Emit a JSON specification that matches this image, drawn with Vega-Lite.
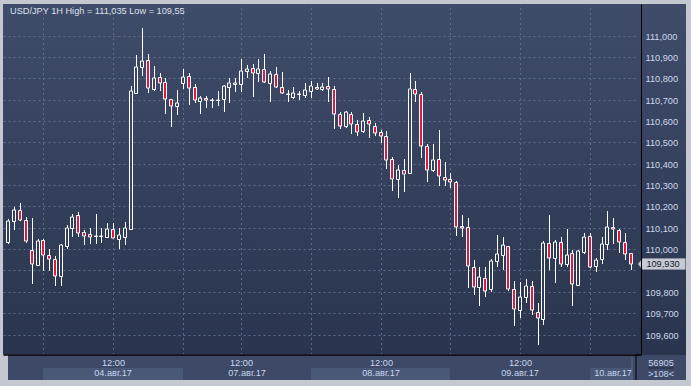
{
  "$schema": "https://vega.github.io/schema/vega-lite/v6.json",
  "width": 638,
  "height": 350.5,
  "autosize": {"type": "none"},
  "padding": {"left": 3, "top": 4, "right": 50, "bottom": 31.5},
  "background": "#c3c8d1",
  "config": {
    "view": {"stroke": null, "fill": {"gradient": "linear", "x1": 0, "y1": 0, "x2": 0, "y2": 1, "stops": [{"offset": 0, "color": "#3f4c6a"}, {"offset": 1, "color": "#2a344e"}]}},
    "font": "Liberation Sans"
  },
  "datasets": {
    "candles": [
      {"i":0,"o":110.035,"h":110.14,"l":110.025,"c":110.132},
      {"i":1,"o":110.132,"h":110.196,"l":110.09,"c":110.183},
      {"i":2,"o":110.183,"h":110.218,"l":110.13,"c":110.135},
      {"i":3,"o":110.135,"h":110.15,"l":110.027,"c":110.038},
      {"i":4,"o":109.994,"h":110.146,"l":109.837,"c":109.929},
      {"i":5,"o":109.924,"h":110.046,"l":109.924,"c":110.038},
      {"i":6,"o":110.041,"h":110.046,"l":109.899,"c":109.971},
      {"i":7,"o":109.971,"h":109.999,"l":109.899,"c":109.952},
      {"i":8,"o":109.954,"h":109.968,"l":109.829,"c":109.876},
      {"i":9,"o":109.876,"h":110.022,"l":109.829,"c":110.018},
      {"i":10,"o":110.016,"h":110.115,"l":109.999,"c":110.097},
      {"i":11,"o":110.1,"h":110.163,"l":110.057,"c":110.149},
      {"i":12,"o":110.158,"h":110.174,"l":110.055,"c":110.077},
      {"i":13,"o":110.079,"h":110.089,"l":110.019,"c":110.063},
      {"i":14,"o":110.069,"h":110.1,"l":110.022,"c":110.058},
      {"i":15,"o":110.063,"h":110.164,"l":110.024,"c":110.063},
      {"i":16,"o":110.063,"h":110.1,"l":110.027,"c":110.062},
      {"i":17,"o":110.055,"h":110.121,"l":110.05,"c":110.096},
      {"i":18,"o":110.093,"h":110.124,"l":110.05,"c":110.054},
      {"i":19,"o":110.049,"h":110.1,"l":110.002,"c":110.064},
      {"i":20,"o":110.057,"h":110.127,"l":110.019,"c":110.097},
      {"i":21,"o":110.096,"h":110.764,"l":110.09,"c":110.74},
      {"i":22,"o":110.733,"h":110.909,"l":110.725,"c":110.851},
      {"i":23,"o":110.851,"h":111.035,"l":110.812,"c":110.881},
      {"i":24,"o":110.885,"h":110.912,"l":110.729,"c":110.753},
      {"i":25,"o":110.748,"h":110.856,"l":110.742,"c":110.8},
      {"i":26,"o":110.804,"h":110.823,"l":110.742,"c":110.778},
      {"i":27,"o":110.781,"h":110.8,"l":110.631,"c":110.703},
      {"i":28,"o":110.701,"h":110.703,"l":110.573,"c":110.669},
      {"i":29,"o":110.67,"h":110.745,"l":110.628,"c":110.683},
      {"i":30,"o":110.776,"h":110.843,"l":110.748,"c":110.804},
      {"i":31,"o":110.81,"h":110.823,"l":110.675,"c":110.753},
      {"i":32,"o":110.759,"h":110.772,"l":110.683,"c":110.697},
      {"i":33,"o":110.692,"h":110.718,"l":110.632,"c":110.707},
      {"i":34,"o":110.706,"h":110.718,"l":110.659,"c":110.697},
      {"i":35,"o":110.699,"h":110.706,"l":110.659,"c":110.698},
      {"i":36,"o":110.698,"h":110.742,"l":110.67,"c":110.7},
      {"i":37,"o":110.703,"h":110.766,"l":110.643,"c":110.764},
      {"i":38,"o":110.76,"h":110.8,"l":110.685,"c":110.776},
      {"i":39,"o":110.775,"h":110.8,"l":110.737,"c":110.776},
      {"i":40,"o":110.772,"h":110.89,"l":110.737,"c":110.832},
      {"i":41,"o":110.832,"h":110.862,"l":110.8,"c":110.843},
      {"i":42,"o":110.846,"h":110.865,"l":110.711,"c":110.823},
      {"i":43,"o":110.823,"h":110.89,"l":110.784,"c":110.842},
      {"i":44,"o":110.842,"h":110.913,"l":110.776,"c":110.781},
      {"i":45,"o":110.776,"h":110.834,"l":110.69,"c":110.818},
      {"i":46,"o":110.818,"h":110.851,"l":110.753,"c":110.757},
      {"i":47,"o":110.757,"h":110.828,"l":110.725,"c":110.729},
      {"i":48,"o":110.726,"h":110.745,"l":110.687,"c":110.727},
      {"i":49,"o":110.714,"h":110.757,"l":110.703,"c":110.729},
      {"i":50,"o":110.725,"h":110.742,"l":110.698,"c":110.726},
      {"i":51,"o":110.721,"h":110.776,"l":110.709,"c":110.743},
      {"i":52,"o":110.742,"h":110.789,"l":110.709,"c":110.764},
      {"i":53,"o":110.761,"h":110.776,"l":110.743,"c":110.75},
      {"i":54,"o":110.748,"h":110.776,"l":110.742,"c":110.757},
      {"i":55,"o":110.762,"h":110.804,"l":110.69,"c":110.75},
      {"i":56,"o":110.748,"h":110.764,"l":110.561,"c":110.631},
      {"i":57,"o":110.631,"h":110.643,"l":110.561,"c":110.575},
      {"i":58,"o":110.575,"h":110.646,"l":110.569,"c":110.64},
      {"i":59,"o":110.634,"h":110.643,"l":110.537,"c":110.587},
      {"i":60,"o":110.587,"h":110.606,"l":110.531,"c":110.55},
      {"i":61,"o":110.555,"h":110.636,"l":110.545,"c":110.6},
      {"i":62,"o":110.603,"h":110.62,"l":110.522,"c":110.584},
      {"i":63,"o":110.576,"h":110.589,"l":110.531,"c":110.545},
      {"i":64,"o":110.547,"h":110.558,"l":110.498,"c":110.528},
      {"i":65,"o":110.528,"h":110.553,"l":110.374,"c":110.419},
      {"i":66,"o":110.42,"h":110.431,"l":110.274,"c":110.327},
      {"i":67,"o":110.327,"h":110.394,"l":110.238,"c":110.369},
      {"i":68,"o":110.369,"h":110.422,"l":110.269,"c":110.35},
      {"i":69,"o":110.355,"h":110.823,"l":110.35,"c":110.748},
      {"i":70,"o":110.748,"h":110.787,"l":110.69,"c":110.725},
      {"i":71,"o":110.725,"h":110.734,"l":110.428,"c":110.481},
      {"i":72,"o":110.481,"h":110.492,"l":110.316,"c":110.369},
      {"i":73,"o":110.369,"h":110.492,"l":110.36,"c":110.416},
      {"i":74,"o":110.42,"h":110.558,"l":110.297,"c":110.341},
      {"i":75,"o":110.336,"h":110.406,"l":110.297,"c":110.322},
      {"i":76,"o":110.327,"h":110.355,"l":110.285,"c":110.313},
      {"i":77,"o":110.313,"h":110.318,"l":110.063,"c":110.102},
      {"i":78,"o":110.107,"h":110.16,"l":110.058,"c":110.097},
      {"i":79,"o":110.102,"h":110.144,"l":109.82,"c":109.922},
      {"i":80,"o":109.918,"h":109.949,"l":109.785,"c":109.824},
      {"i":81,"o":109.824,"h":109.918,"l":109.735,"c":109.871},
      {"i":82,"o":109.863,"h":109.915,"l":109.777,"c":109.806},
      {"i":83,"o":109.812,"h":109.952,"l":109.801,"c":109.944},
      {"i":84,"o":109.944,"h":110.066,"l":109.918,"c":109.976},
      {"i":85,"o":109.971,"h":110.055,"l":109.902,"c":110.018},
      {"i":86,"o":110.013,"h":110.016,"l":109.806,"c":109.812},
      {"i":87,"o":109.812,"h":109.851,"l":109.642,"c":109.718},
      {"i":88,"o":109.715,"h":109.848,"l":109.679,"c":109.778},
      {"i":89,"o":109.778,"h":109.859,"l":109.746,"c":109.829},
      {"i":90,"o":109.829,"h":109.851,"l":109.692,"c":109.715},
      {"i":91,"o":109.707,"h":109.746,"l":109.55,"c":109.676},
      {"i":92,"o":109.671,"h":110.038,"l":109.645,"c":110.027},
      {"i":93,"o":110.027,"h":110.16,"l":109.902,"c":109.957},
      {"i":94,"o":109.957,"h":110.043,"l":109.843,"c":110.035},
      {"i":95,"o":110.032,"h":110.058,"l":109.918,"c":109.93},
      {"i":96,"o":109.929,"h":110.093,"l":109.918,"c":109.971},
      {"i":97,"o":109.983,"h":109.996,"l":109.735,"c":109.835},
      {"i":98,"o":109.832,"h":109.996,"l":109.829,"c":109.991},
      {"i":99,"o":109.985,"h":110.074,"l":109.976,"c":110.055},
      {"i":100,"o":110.061,"h":110.074,"l":109.913,"c":109.918},
      {"i":101,"o":109.923,"h":109.957,"l":109.894,"c":109.949},
      {"i":102,"o":109.952,"h":110.058,"l":109.93,"c":110.024},
      {"i":103,"o":110.022,"h":110.178,"l":109.996,"c":110.102},
      {"i":104,"o":110.105,"h":110.144,"l":110.024,"c":110.093},
      {"i":105,"o":110.09,"h":110.092,"l":109.98,"c":110.035},
      {"i":106,"o":110.032,"h":110.074,"l":109.949,"c":109.977},
      {"i":107,"o":109.98,"h":109.98,"l":109.9,"c":109.93}
    ],
    "days": [
      {"day": "04.авг.17", "first": 6, "last": 30, "mid": 18, "shade": "light"},
      {"day": "07.авг.17", "first": 30, "last": 52, "mid": 41, "shade": "dark"},
      {"day": "08.авг.17", "first": 52, "last": 76, "mid": 64, "shade": "light"},
      {"day": "09.авг.17", "first": 76, "last": 100, "mid": 88, "shade": "dark"},
      {"day": "10.авг.17", "first": 100, "last": 107.3, "mid": 104, "shade": "light"}
    ],
    "last": [{"price": 109.93}]
  },
  "resolve": {"axis": {"x": "independent", "y": "independent"}},
  "layer": [
    {
      "data": {"values": [{}]},
      "mark": {"type": "rect", "clip": false, "fill": {"gradient": "linear", "x1": 0, "y1": 0, "x2": 0, "y2": 1, "stops": [{"offset": 0, "color": "#3f4c6a"}, {"offset": 1, "color": "#2a344e"}]}},
      "encoding": {
        "x": {"datum": 107.93, "type": "quantitative", "scale": {"domain": [-0.077, 107.93], "nice": false, "zero": false, "round": true}, "axis": null},
        "x2": {"datum": 116.6},
        "y": {"datum": 111.1475, "type": "quantitative", "scale": {"domain": [109.5066, 111.1475], "nice": false, "zero": false, "round": true}, "axis": null},
        "y2": {"datum": 109.5066}
      }
    },
    {
      "data": {"values": [{}]},
      "mark": {"type": "rect", "clip": false, "fill": "#3d4966"},
      "encoding": {
        "x": {"datum": -0.077, "type": "quantitative", "scale": {"domain": [-0.077, 107.93], "nice": false, "zero": false, "round": true}, "axis": null},
        "x2": {"datum": 116.6},
        "y": {"datum": 109.5066, "type": "quantitative", "scale": {"domain": [109.5066, 111.1475], "nice": false, "zero": false, "round": true}, "axis": null},
        "y2": {"datum": 109.3872}
      }
    },
    {
      "data": {"name": "days"},
      "mark": {"type": "rect", "clip": false},
      "encoding": {
        "x": {"field": "first", "type": "quantitative", "scale": {"domain": [-0.077, 107.93], "nice": false, "zero": false, "round": true}, "axis": null},
        "x2": {"field": "last"},
        "y": {"datum": 109.4447, "type": "quantitative", "scale": {"domain": [109.5066, 111.1475], "nice": false, "zero": false, "round": true}, "axis": null},
        "y2": {"datum": 109.3872},
        "fill": {"field": "shade", "type": "nominal", "scale": {"domain": ["light", "dark"], "range": ["#4a5877", "#3d4966"]}, "legend": null}
      }
    },
    {
      "data": {"name": "days"},
      "mark": {"type": "text", "clip": false, "fontSize": 9.2, "font": "Liberation Sans", "color": "#c8d6ee", "baseline": "middle", "align": "center"},
      "encoding": {
        "x": {"field": "mid", "type": "quantitative", "scale": {"domain": [-0.077, 107.93], "nice": false, "zero": false, "round": true}, "axis": null},
        "y": {"datum": 109.4185, "type": "quantitative", "scale": {"domain": [109.5066, 111.1475], "nice": false, "zero": false, "round": true}, "axis": null},
        "text": {"field": "day"}
      }
    },
    {
      "data": {"name": "candles"},
      "mark": {"type": "rule", "clip": true, "color": "#ffffff", "strokeWidth": 1, "xOffset": 0.5},
      "encoding": {
        "x": {"field": "i", "type": "quantitative", "scale": {"domain": [-0.077, 107.93], "nice": false, "zero": false, "round": true},
              "axis": {"orient": "top", "values": [6, 18, 30, 40, 52, 64, 76, 88, 100], "grid": true, "gridColor": "#5f6c8a", "gridDash": [2, 3], "gridWidth": 1, "labels": false, "ticks": false, "domain": false, "title": null, "zindex": 0}},
        "y": {"field": "l", "type": "quantitative", "scale": {"domain": [109.5066, 111.1475], "nice": false, "zero": false, "round": true},
              "axis": {"orient": "left", "values": [109.6, 109.7, 109.8, 109.9, 110, 110.1, 110.2, 110.3, 110.4, 110.5, 110.6, 110.7, 110.8, 110.9, 111], "grid": true, "gridColor": "#5f6c8a", "gridDash": [2, 3], "gridWidth": 1, "labels": false, "ticks": false, "domain": false, "title": null, "zindex": 0}},
        "y2": {"field": "h"}
      }
    },
    {
      "data": {"name": "candles"},
      "mark": {"type": "bar", "clip": true, "width": 3, "stroke": "#ffffff", "strokeWidth": 1, "yOffset": 0.5},
      "encoding": {
        "x": {"field": "i", "type": "quantitative", "scale": {"domain": [-0.077, 107.93], "nice": false, "zero": false, "round": true},
              "axis": {"orient": "bottom", "values": [18, 40, 64, 88], "labelExpr": "'12:00'", "grid": false, "ticks": false, "tickSize": 0, "domain": true, "domainColor": "#000000", "domainWidth": 1.5, "labelPadding": 8, "labelBaseline": "middle", "labelColor": "#c8d6ee", "labelFontSize": 9.2, "labelFont": "Liberation Sans", "labelFlush": false, "labelOverlap": false, "title": null, "zindex": 1}},
        "y": {"field": "o", "type": "quantitative", "scale": {"domain": [109.5066, 111.1475], "nice": false, "zero": false, "round": true},
              "axis": {"orient": "right", "values": [109.6, 109.7, 109.8, 109.9, 110, 110.1, 110.2, 110.3, 110.4, 110.5, 110.6, 110.7, 110.8, 110.9, 111], "labelExpr": "(datum.value > 109.89 && datum.value < 109.91) ? '' : replace(format(datum.value, '.3f'), '.', ',')", "grid": false, "ticks": false, "tickSize": 0, "domain": true, "domainColor": "#000000", "domainWidth": 1, "labelPadding": 4, "labelAlign": "left", "labelBaseline": "middle", "labelColor": "#cdd8ea", "labelFontSize": 9.2, "labelFont": "Liberation Sans", "labelFlush": false, "labelOverlap": false, "labelBound": false, "title": null, "zindex": 1}},
        "y2": {"field": "c"},
        "fill": {"condition": {"test": "datum.c < datum.o", "value": "#e0183f"}, "field": "c", "type": "quantitative", "scale": {"domain": [109.5066, 111.1475], "range": ["#2a344e", "#3f4c6a"], "interpolate": "rgb"}, "legend": null}
      }
    },
    {
      "data": {"values": [{}]},
      "mark": {"type": "text", "clip": false, "text": "USD/JPY 1H High = 111,035 Low = 109,55", "fontSize": 9.2, "font": "Liberation Sans", "color": "#dde2ea", "baseline": "middle", "align": "left"},
      "encoding": {
        "x": {"datum": 0.26, "type": "quantitative", "scale": {"domain": [-0.077, 107.93], "nice": false, "zero": false, "round": true}, "axis": null},
        "y": {"datum": 111.117, "type": "quantitative", "scale": {"domain": [109.5066, 111.1475], "nice": false, "zero": false, "round": true}, "axis": null}
      }
    },
    {
      "data": {"values": [{}]},
      "mark": {"type": "rule", "clip": false, "color": "#000000", "strokeWidth": 1},
      "encoding": {
        "x": {"datum": 107.93, "type": "quantitative", "scale": {"domain": [-0.077, 107.93], "nice": false, "zero": false, "round": true}, "axis": null},
        "y": {"datum": 109.5066, "type": "quantitative", "scale": {"domain": [109.5066, 111.1475], "nice": false, "zero": false, "round": true}, "axis": null},
        "y2": {"datum": 109.3872}
      }
    },
    {
      "data": {"values": [{}]},
      "mark": {"type": "rule", "clip": false, "color": "#5d6985", "strokeWidth": 1},
      "encoding": {
        "x": {"datum": 107.3, "type": "quantitative", "scale": {"domain": [-0.077, 107.93], "nice": false, "zero": false, "round": true}, "axis": null},
        "y": {"datum": 109.4934, "type": "quantitative", "scale": {"domain": [109.5066, 111.1475], "nice": false, "zero": false, "round": true}, "axis": null},
        "y2": {"datum": 109.3872}
      }
    },
    {
      "data": {"values": [{}]},
      "mark": {"type": "rule", "clip": false, "color": "#232b3d", "strokeWidth": 1},
      "encoding": {
        "x": {"datum": 109.96, "type": "quantitative", "scale": {"domain": [-0.077, 107.93], "nice": false, "zero": false, "round": true}, "axis": null},
        "x2": {"datum": 114.53},
        "y": {"datum": 109.4434, "type": "quantitative", "scale": {"domain": [109.5066, 111.1475], "nice": false, "zero": false, "round": true}, "axis": null}
      }
    },
    {
      "data": {"values": [{}]},
      "mark": {"type": "text", "clip": false, "text": "56905", "fontSize": 9.2, "font": "Liberation Sans", "color": "#c8d6ee", "baseline": "middle", "align": "center"},
      "encoding": {
        "x": {"datum": 112.28, "type": "quantitative", "scale": {"domain": [-0.077, 107.93], "nice": false, "zero": false, "round": true}, "axis": null},
        "y": {"datum": 109.468, "type": "quantitative", "scale": {"domain": [109.5066, 111.1475], "nice": false, "zero": false, "round": true}, "axis": null}
      }
    },
    {
      "data": {"values": [{}]},
      "mark": {"type": "text", "clip": false, "text": ">108<", "fontSize": 9.2, "font": "Liberation Sans", "color": "#c8d6ee", "baseline": "middle", "align": "center"},
      "encoding": {
        "x": {"datum": 112.28, "type": "quantitative", "scale": {"domain": [-0.077, 107.93], "nice": false, "zero": false, "round": true}, "axis": null},
        "y": {"datum": 109.4153, "type": "quantitative", "scale": {"domain": [109.5066, 111.1475], "nice": false, "zero": false, "round": true}, "axis": null}
      }
    },
    {
      "data": {"name": "last"},
      "mark": {"type": "point", "clip": false, "filled": true, "opacity": 1, "fill": "#c6cad3", "stroke": "#8e95a3", "strokeWidth": 0.6, "size": 121, "shape": "M0,0L0.84,-1L8.6,-1L8.6,1L0.84,1Z"},
      "encoding": {
        "x": {"datum": 108.22, "type": "quantitative", "scale": {"domain": [-0.077, 107.93], "nice": false, "zero": false, "round": true}, "axis": null},
        "y": {"field": "price", "type": "quantitative", "scale": {"domain": [109.5066, 111.1475], "nice": false, "zero": false, "round": true}, "axis": null}
      }
    },
    {
      "data": {"name": "last"},
      "mark": {"type": "text", "clip": false, "fontSize": 9.2, "font": "Liberation Sans", "color": "#141a28", "baseline": "middle", "align": "center", "text": {"expr": "replace(format(datum.price, '.3f'), '.', ',')"}},
      "encoding": {
        "x": {"datum": 112.6, "type": "quantitative", "scale": {"domain": [-0.077, 107.93], "nice": false, "zero": false, "round": true}, "axis": null},
        "y": {"field": "price", "type": "quantitative", "scale": {"domain": [109.5066, 111.1475], "nice": false, "zero": false, "round": true}, "axis": null}
      }
    }
  ]
}
